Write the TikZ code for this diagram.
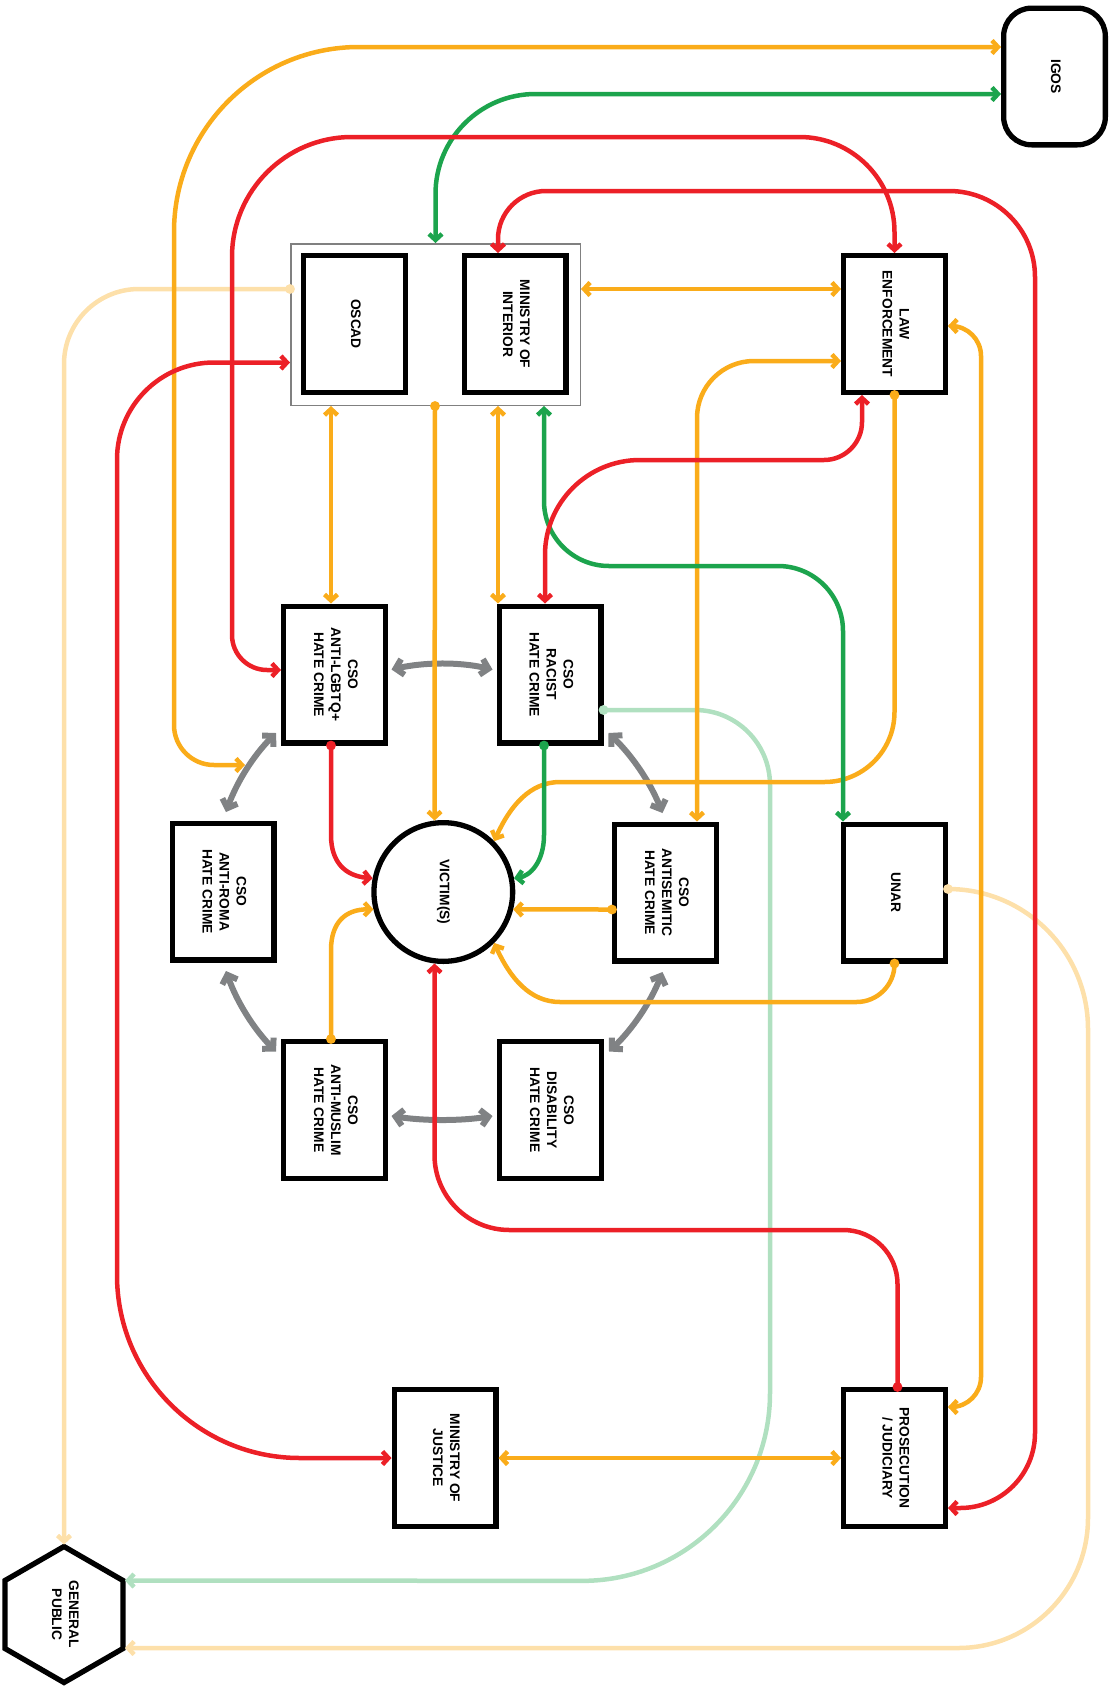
\documentclass[tikz,border=0pt]{standalone}
\usepackage{fontspec}
\setmainfont{Liberation Sans}
\usepackage{graphicx}
\usetikzlibrary{arrows.meta,calc}
\definecolor{orangeC}{RGB}{250,172,26}
\definecolor{redC}{RGB}{236,32,39}
\definecolor{greenC}{RGB}{28,164,77}
\definecolor{grayC}{RGB}{128,130,132}
\definecolor{paleO}{RGB}{253,224,170}
\definecolor{paleG}{RGB}{176,224,192}
\newcommand\boxtext[1]{\rotatebox{-90}{\begin{tabular}{@{}c@{}}#1\end{tabular}}}
\tikzset{
  box/.style={draw, line width=5.3pt, fill=white, minimum width=101.7pt, minimum height=136.7pt, inner sep=0pt, font={\fontsize{13.8}{17}\selectfont\bfseries}},
  conn/.style={line width=4.5pt, line join=round, >={Straight Barb[length=6pt,width=13pt]}},
  both/.style={conn,<->},
  dotto/.style={conn,{Circle[length=9.5pt]}->,shorten <=-4.75pt},
  grayc/.style={line width=6pt, draw=grayC, >={Straight Barb[length=7.5pt,width=16pt]}, <->}
}
\begin{document}
\begin{tikzpicture}[x=1pt,y=-1pt]
\useasboundingbox (0,0) rectangle (1117,1689);
% ---------- nodes ----------
\node[draw=gray, line width=1.5pt, fill=white, minimum width=289.5pt, minimum height=161.5pt, inner sep=0pt] (container) at (435.5,324.5) {};
\node[box] (oscad) at (354.5,324) {\boxtext{OSCAD}};
\node[box] (moi) at (515,324) {\boxtext{MINISTRY OF\\INTERIOR}};
\node[box] (le) at (894.5,324) {\boxtext{LAW\\ENFORCEMENT}};
\node[box, rounded corners=28pt] (igos) at (1054.5,76.5) {\boxtext{IGOS}};
\node[box] (lgbtq) at (334.5,674.5) {\boxtext{CSO\\ANTI-LGBTQ+\\HATE CRIME}};
\node[box] (racist) at (550,674.5) {\boxtext{CSO\\RACIST\\HATE CRIME}};
\node[box, circle, minimum size=138.7pt] (victim) at (443.3,892) {\boxtext{VICTIM(S)}};
\node[box] (antiroma) at (223,891.5) {\boxtext{CSO\\ANTI-ROMA\\HATE CRIME}};
\node[box] (antisem) at (665.5,892.5) {\boxtext{CSO\\ANTISEMITIC\\HATE CRIME}};
\node[box] (unar) at (894.5,892.5) {\boxtext{UNAR}};
\node[box] (antimuslim) at (334.5,1110) {\boxtext{CSO\\ANTI-MUSLIM\\HATE CRIME}};
\node[box] (disab) at (550.5,1110) {\boxtext{CSO\\DISABILITY\\HATE CRIME}};
\node[box] (moj) at (445,1458) {\boxtext{MINISTRY OF\\JUSTICE}};
\node[box] (pros) at (894.5,1458) {\boxtext{PROSECUTION\\/ JUDICIARY}};
\draw[line width=5.3pt, fill=white, line join=miter] (64,1546.5) -- (123,1580.5) -- (123,1648.5) -- (64,1682.5) -- (5,1648.5) -- (5,1580.5) -- cycle;
\node[inner sep=0pt, font={\fontsize{13.8}{17}\selectfont\bfseries}] (gp) at (64,1614.5) {\boxtext{GENERAL\\PUBLIC}};
% ---------- pale connectors ----------
\draw[dotto, draw=paleO] ($(container.west)+(0,-35.5)$) [rounded corners=75pt] -- (64,289) -- ($(gp)+(0,-70)$);
\draw[dotto, draw=paleO] ($(unar.east)+(0,-3.5)$) [rounded corners=140pt] -- (1088,889) [rounded corners=130pt] -- (1088,1648) -- ($(gp)+(61,33.5)$);
\draw[dotto, draw=paleG] ($(racist.east)+(0,35.5)$) [rounded corners=75pt] -- (770,710) [rounded corners=188pt] -- (770,1581) -- ($(gp)+(61,-34)$);
% ---------- gray connectors ----------
\draw[grayc] ($(lgbtq.east)+(3.5,-5)$) .. controls (425,662) and (460,662) .. ($(racist.west)+(-4,-5)$);
\draw[grayc] ($(lgbtq.center)+(-58.5,58.5)$) .. controls (253.4,755.6) and (236.8,782) .. ($(antiroma.center)+(3,-79.5)$);
\draw[grayc] ($(racist.center)+(58.5,58.5)$) .. controls (632.3,755.8) and (650.3,782.4) .. ($(antisem.center)+(-3,-79.5)$);
\draw[grayc] ($(antiroma.center)+(3,79.5)$) .. controls (236.7,1001.5) and (253.4,1028.4) .. ($(antimuslim.center)+(-58.5,-58.5)$);
\draw[grayc] ($(antisem.center)+(-3,79.5)$) .. controls (650.5,1002.4) and (632.6,1028.9) .. ($(disab.center)+(58.5,-58.5)$);
\draw[grayc] ($(antimuslim.east)+(3.5,6)$) .. controls (425,1121) and (460,1121) .. ($(disab.west)+(-4.5,6)$);
% ---------- orange ----------
\draw[both, draw=orangeC] ($(lgbtq.center)+(-89.5,90.5)$) [rounded corners=40pt] -- (174,765) [rounded corners=185pt] -- (174,47) -- ($(igos.west)+(0,-29.5)$);
\draw[both, draw=orangeC] ($(container.east)+(0,-35.5)$) -- ($(le.west)+(0,-35)$);
\draw[both, draw=orangeC] ($(le.west)+(0,37)$) [rounded corners=57pt] -- (697,361) -- ($(antisem.north)+(31.5,0)$);
\draw[dotto, draw=orangeC] (le.south) [rounded corners=70pt] -- (894.5,782) [sharp corners] -- (560,782) .. controls (530,782) and (510,806) .. (victim.45);
\draw[both, draw=orangeC] ($(le.east)+(0,2)$) [rounded corners=30pt] -- (981,326) -- (981,1407) -- ($(pros.east)+(0,-51)$);
\draw[both, draw=orangeC] ($(container.south)+(-104.5,0)$) -- ($(lgbtq.north)+(-3.5,0)$);
\draw[dotto, draw=orangeC] ($(container.south)+(-0.5,0)$) -- (victim.97);
\draw[both, draw=orangeC] ($(container.south)+(62.5,0)$) -- ($(racist.north)+(-52,0)$);
\draw[dotto, draw=orangeC] ($(antisem.west)+(0,17)$) -- (victim.-14);
\draw[dotto, draw=orangeC] ($(antimuslim.north)+(-3.5,0)$) -- (331,950) .. controls (331,923) and (345,909) .. (victim.194);
\draw[dotto, draw=orangeC] (unar.south) [rounded corners=38pt] -- (894.5,1002) [sharp corners] -- (560,1002) .. controls (530,1002) and (510,978) .. (victim.-45);
\draw[both, draw=orangeC] (moj.east) -- (pros.west);
% ---------- green ----------
\draw[both, draw=greenC] (container.north) [rounded corners=100pt] -- (435.5,94) -- ($(igos.west)+(0,17.5)$);
\draw[both, draw=greenC] ($(container.south)+(108.5,0)$) [rounded corners=65pt] -- (544,566) -- (843,566) -- ($(unar.north)+(-51.5,0)$);
\draw[dotto, draw=greenC] ($(racist.south)+(-6,0)$) -- (544,835) .. controls (544,862) and (530,876) .. (victim.11);
% ---------- red ----------
\draw[both, draw=redC] (le.north) [rounded corners=95pt] -- (894.5,137) [rounded corners=120pt] -- (232,137) [rounded corners=35pt] -- (232,670) -- ($(lgbtq.west)+(0,-4.5)$);
\draw[both, draw=redC] ($(moi.north)+(-17,0)$) [rounded corners=48pt] -- (498,191) [rounded corners=86pt] -- (1035,191) [rounded corners=75pt] -- (1035,1508) -- ($(pros.east)+(0,50)$);
\draw[both, draw=redC] ($(container.west)+(0,38)$) [rounded corners=97pt] -- (117,362.5) [rounded corners=183pt] -- (117,1458) -- (moj.west);
\draw[both, draw=redC] ($(le.south)+(-32.5,0)$) [rounded corners=38pt] -- (862,460) [rounded corners=95pt] -- (545,460) -- ($(racist.north)+(-5,0)$);
\draw[dotto, draw=redC] ($(lgbtq.south)+(-3.5,0)$) -- (331,835) .. controls (331,862) and (345,876) .. (victim.169);
\draw[dotto, draw=redC] ($(pros.north)+(3,0)$) [rounded corners=54pt] -- (897.5,1230) [rounded corners=75pt] -- (434.5,1230) -- (victim.263);
\end{tikzpicture}
\end{document}
